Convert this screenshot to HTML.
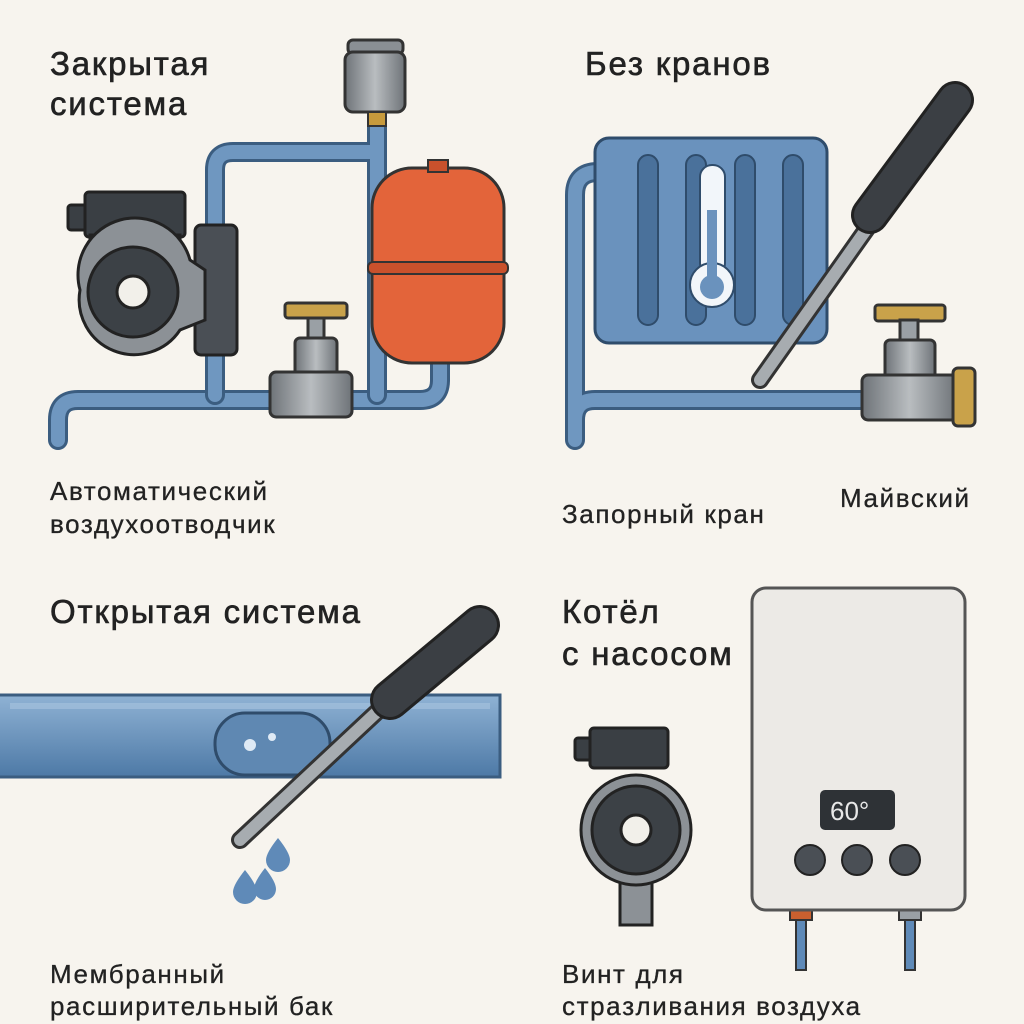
<!DOCTYPE html>
<html><head><meta charset="utf-8"><style>
body{margin:0;background:#f7f4ee;}
svg{display:block}
text{font-family:"Liberation Sans","DejaVu Sans",sans-serif;fill:#222;}
.t{font-size:33px;letter-spacing:1.8px;stroke:#222;stroke-width:0.6px}
.s{font-size:26px;letter-spacing:1.6px;stroke:#222;stroke-width:0.3px}
</style></head><body>
<svg width="1024" height="1024" viewBox="0 0 1024 1024" xmlns="http://www.w3.org/2000/svg">
<rect width="1024" height="1024" fill="#f7f4ee"/>
<defs>
<linearGradient id="pg" x1="0" y1="0" x2="0" y2="1"><stop offset="0" stop-color="#8fb2d4"/><stop offset="1" stop-color="#4d79a6"/></linearGradient>
<linearGradient id="gr" x1="0" y1="0" x2="1" y2="0"><stop offset="0" stop-color="#6e7378"/><stop offset=".5" stop-color="#b9bdc0"/><stop offset="1" stop-color="#6e7378"/></linearGradient>
</defs>

<!-- Top-left -->
<text class="t" x="50" y="75">Закрытая</text>
<text class="t" x="50" y="115">система</text>
<g fill="none" stroke-linecap="round" stroke-linejoin="round">
<path d="M58 440 V420 Q58 400 78 400 H420 Q440 400 440 380 V355" stroke="#3b5d80" stroke-width="20"/>
<path d="M58 440 V420 Q58 400 78 400 H420 Q440 400 440 380 V355" stroke="#6f97c0" stroke-width="14"/>
<path d="M215 395 V170 Q215 152 233 152 H377 M377 120 V395" stroke="#3b5d80" stroke-width="20"/>
<path d="M215 395 V170 Q215 152 233 152 H377 M377 120 V395" stroke="#6f97c0" stroke-width="14"/>
</g>
<rect x="348" y="40" width="55" height="14" rx="5" fill="#8a8f94" stroke="#333" stroke-width="3"/>
<rect x="345" y="52" width="60" height="60" rx="8" fill="url(#gr)" stroke="#333" stroke-width="3"/>
<rect x="368" y="112" width="18" height="14" fill="#c79a3c" stroke="#333" stroke-width="2"/>
<rect x="372" y="168" width="132" height="195" rx="40" fill="#e3643a" stroke="#333" stroke-width="3"/>
<rect x="368" y="262" width="140" height="12" rx="5" fill="#c9512c" stroke="#333" stroke-width="2"/>
<rect x="428" y="160" width="20" height="12" fill="#c9512c" stroke="#333" stroke-width="2"/>
<rect x="195" y="225" width="42" height="130" rx="6" fill="#4a4f55" stroke="#222" stroke-width="3"/>
<rect x="68" y="205" width="30" height="25" rx="3" fill="#3a3f44" stroke="#222" stroke-width="3"/>
<rect x="85" y="192" width="100" height="45" rx="4" fill="#3a3f44" stroke="#222" stroke-width="3"/>
<rect x="90" y="235" width="90" height="20" fill="#6b7075" stroke="#222" stroke-width="3"/>
<path d="M80 290 a55 55 0 0 1 110 -30 L205 270 V320 L180 330 A55 55 0 0 1 80 290Z" fill="#8c9196" stroke="#222" stroke-width="3"/>
<circle cx="133" cy="292" r="45" fill="#3c4146" stroke="#222" stroke-width="3"/>
<circle cx="133" cy="292" r="16" fill="#f2f0ea" stroke="#222" stroke-width="3"/>
<rect x="285" y="303" width="62" height="15" rx="3" fill="#c9a24a" stroke="#333" stroke-width="3"/>
<rect x="308" y="318" width="16" height="22" fill="#9aa0a5" stroke="#333" stroke-width="3"/>
<rect x="295" y="338" width="42" height="40" rx="5" fill="url(#gr)" stroke="#333" stroke-width="3"/>
<rect x="270" y="372" width="82" height="45" rx="6" fill="url(#gr)" stroke="#333" stroke-width="3"/>
<text class="s" x="50" y="500">Автоматический</text>
<text class="s" x="50" y="533">воздухоотводчик</text>

<!-- Top-right -->
<text class="t" x="585" y="75">Без кранов</text>
<g fill="none" stroke-linecap="round" stroke-linejoin="round">
<path d="M575 440 V195 Q575 172 598 172 H600 M575 420 Q575 400 595 400 H870" stroke="#3b5d80" stroke-width="20"/>
<path d="M575 440 V195 Q575 172 598 172 H600 M575 420 Q575 400 595 400 H870" stroke="#6f97c0" stroke-width="14"/>
</g>
<rect x="595" y="138" width="232" height="205" rx="14" fill="#6a92bd" stroke="#2f4c6b" stroke-width="3"/>
<g fill="#4a719b" stroke="#2f4c6b" stroke-width="2">
<rect x="638" y="155" width="20" height="170" rx="10"/>
<rect x="686" y="155" width="20" height="170" rx="10"/>
<rect x="735" y="155" width="20" height="170" rx="10"/>
<rect x="783" y="155" width="20" height="170" rx="10"/>
</g>
<rect x="700" y="165" width="25" height="110" rx="12" fill="#f2f6fa" stroke="#2f4c6b" stroke-width="2"/>
<circle cx="712" cy="285" r="22" fill="#f2f6fa" stroke="#2f4c6b" stroke-width="2"/>
<rect x="707" y="210" width="10" height="75" fill="#6a92bd"/>
<circle cx="712" cy="287" r="12" fill="#6a92bd"/>
<line x1="760" y1="380" x2="880" y2="210" stroke="#333" stroke-width="18" stroke-linecap="round"/>
<line x1="760" y1="380" x2="880" y2="210" stroke="#a7acb0" stroke-width="12" stroke-linecap="round"/>
<line x1="870" y1="215" x2="955" y2="100" stroke="#222" stroke-width="38" stroke-linecap="round"/>
<line x1="870" y1="215" x2="955" y2="100" stroke="#3b3f44" stroke-width="32" stroke-linecap="round"/>
<rect x="875" y="305" width="70" height="16" rx="3" fill="#c9a24a" stroke="#333" stroke-width="3"/>
<rect x="900" y="320" width="18" height="22" fill="#9aa0a5" stroke="#333" stroke-width="3"/>
<rect x="885" y="340" width="50" height="40" rx="5" fill="url(#gr)" stroke="#333" stroke-width="3"/>
<rect x="862" y="375" width="95" height="45" rx="6" fill="url(#gr)" stroke="#333" stroke-width="3"/>
<rect x="953" y="368" width="22" height="58" rx="5" fill="#c9a24a" stroke="#333" stroke-width="3"/>
<text class="s" x="562" y="523">Запорный кран</text>
<text class="s" x="840" y="507">Майвский</text>

<!-- Bottom-left -->
<text class="t" x="50" y="623">Открытая система</text>
<rect x="-5" y="695" width="505" height="82" fill="url(#pg)" stroke="#3b5d80" stroke-width="3"/>
<rect x="10" y="703" width="480" height="6" fill="#a9c4df" opacity=".6"/>
<rect x="215" y="713" width="115" height="62" rx="30" fill="#5f88b2" stroke="#2f4c6b" stroke-width="3"/>
<circle cx="250" cy="745" r="6" fill="#dfeaf5"/>
<circle cx="272" cy="737" r="4" fill="#dfeaf5"/>
<line x1="240" y1="840" x2="395" y2="695" stroke="#333" stroke-width="18" stroke-linecap="round"/>
<line x1="240" y1="840" x2="395" y2="695" stroke="#a7acb0" stroke-width="12" stroke-linecap="round"/>
<line x1="390" y1="700" x2="480" y2="625" stroke="#222" stroke-width="40" stroke-linecap="round"/>
<line x1="390" y1="700" x2="480" y2="625" stroke="#3b3f44" stroke-width="34" stroke-linecap="round"/>
<g fill="#5f8ab8">
<path d="M245 870 q-12 15 -12 22 a12 12 0 0 0 24 0 q0 -7 -12 -22z"/>
<path d="M278 838 q-12 15 -12 22 a12 12 0 0 0 24 0 q0 -7 -12 -22z"/>
<path d="M265 868 q-11 14 -11 21 a11 11 0 0 0 22 0 q0 -7 -11 -21z"/>
</g>
<text class="s" x="50" y="983">Мембранный</text>
<text class="s" x="50" y="1015">расширительный бак</text>

<!-- Bottom-right -->
<text class="t" x="562" y="623">Котёл</text>
<text class="t" x="562" y="665">с насосом</text>
<rect x="796" y="908" width="10" height="62" fill="#5f8ab8" stroke="#333" stroke-width="2"/>
<rect x="905" y="908" width="10" height="62" fill="#5f8ab8" stroke="#333" stroke-width="2"/>
<rect x="790" y="908" width="22" height="12" fill="#c9602f" stroke="#333" stroke-width="2"/>
<rect x="899" y="908" width="22" height="12" fill="#9aa0a5" stroke="#333" stroke-width="2"/>
<rect x="752" y="588" width="213" height="322" rx="14" fill="#eceae6" stroke="#555" stroke-width="3"/>
<rect x="820" y="790" width="75" height="40" rx="5" fill="#2e3236"/>
<text x="830" y="820" style="font-size:26px;fill:#e8e8e8">60°</text>
<circle cx="810" cy="860" r="15" fill="#4a4f55" stroke="#222" stroke-width="2"/>
<circle cx="857" cy="860" r="15" fill="#4a4f55" stroke="#222" stroke-width="2"/>
<circle cx="905" cy="860" r="15" fill="#4a4f55" stroke="#222" stroke-width="2"/>
<rect x="575" y="738" width="28" height="22" rx="3" fill="#3a3f44" stroke="#222" stroke-width="3"/>
<rect x="590" y="728" width="78" height="40" rx="4" fill="#3a3f44" stroke="#222" stroke-width="3"/>
<rect x="620" y="880" width="32" height="45" fill="#8c9196" stroke="#222" stroke-width="3"/>
<circle cx="636" cy="830" r="55" fill="#8c9196" stroke="#222" stroke-width="3"/>
<circle cx="636" cy="830" r="44" fill="#3c4146" stroke="#222" stroke-width="3"/>
<circle cx="636" cy="830" r="15" fill="#f2f0ea" stroke="#222" stroke-width="3"/>
<text class="s" x="562" y="983">Винт для</text>
<text class="s" x="562" y="1015">стрaзливания воздуха</text>
</svg>
</body></html>
